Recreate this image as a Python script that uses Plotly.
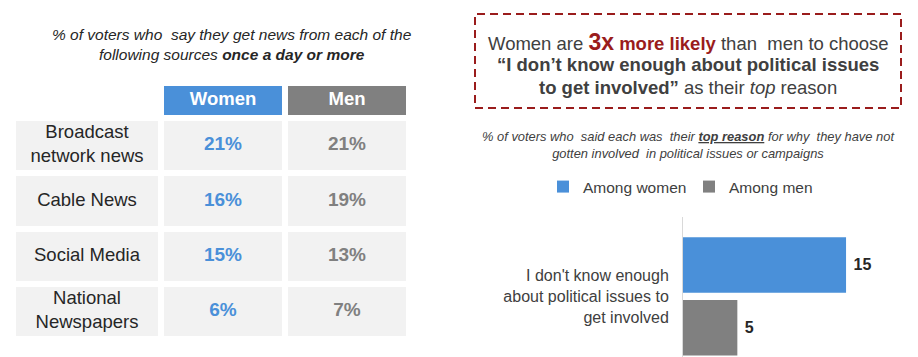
import plotly.graph_objects as go

# ---------------- data ----------------
# Left table
sources = ["Broadcast<br>network news", "Cable News", "Social Media", "National<br>Newspapers"]
groups = ["Women", "Men"]
women_pct = [21, 16, 15, 6]
men_pct = [21, 19, 13, 7]

# Right bar chart
reasons = ["I don't know enough<br>about political issues to<br>get involved"]
among_women = [15]
among_men = [5]
series_names = ["Among women", "Among men"]

# ---------------- styling ----------------
W, H = 918, 357
OFF = 8  # page body margin offset
FONT = "Liberation Sans, Arial, sans-serif"
BLUE = "#4A90D9"
GRAY = "#808080"
CELL = "#F2F2F2"
DARKRED = "#9A1C1C"
TXT = "#262626"
TXT2 = "#404040"


def xp(px):
    return (px - OFF) / W


def yp(py):
    return 1 - (py - OFF) / H


fig = go.Figure()

# ---- table grid (heatmap bricks on a pixel-scaled helper axis) ----
col_edges = [13, 161, 285, 409]
row_edges = [83, 117.5, 173, 229, 284, 339]
z = [[None, 1, 2]] + [[0, 0, 0] for _ in sources]
fig.add_trace(go.Heatmap(
    x=col_edges, y=row_edges, z=z, xaxis="x2", yaxis="y2",
    colorscale=[[0, CELL], [0.5, BLUE], [1, GRAY]], zmin=0, zmax=2,
    showscale=False, xgap=6, ygap=6, hoverinfo="skip"))

col_c = [(col_edges[i] + col_edges[i + 1]) / 2 for i in range(3)]
row_c = [(row_edges[i] + row_edges[i + 1]) / 2 for i in range(len(row_edges) - 1)]

# header text
fig.add_trace(go.Scatter(
    x=col_c[1:], y=[row_c[0]] * 2, xaxis="x2", yaxis="y2", mode="text",
    text=[f"<b>{g}</b>" for g in groups], textposition="middle center",
    textfont=dict(family=FONT, size=18.5, color="white"),
    showlegend=False, hoverinfo="skip"))
# row labels
fig.add_trace(go.Scatter(
    x=[col_c[0]] * len(sources), y=row_c[1:], xaxis="x2", yaxis="y2", mode="text",
    text=sources, textposition="middle center",
    textfont=dict(family=FONT, size=18.5, color=TXT),
    showlegend=False, hoverinfo="skip"))
# women values
fig.add_trace(go.Scatter(
    x=[col_c[1]] * len(women_pct), y=row_c[1:], xaxis="x2", yaxis="y2", mode="text",
    text=[f"<b>{v}%</b>" for v in women_pct], textposition="middle center",
    textfont=dict(family=FONT, size=19, color=BLUE),
    showlegend=False, hoverinfo="skip"))
# men values
fig.add_trace(go.Scatter(
    x=[col_c[2]] * len(men_pct), y=row_c[1:], xaxis="x2", yaxis="y2", mode="text",
    text=[f"<b>{v}%</b>" for v in men_pct], textposition="middle center",
    textfont=dict(family=FONT, size=19, color=GRAY),
    showlegend=False, hoverinfo="skip"))

# ---- bar chart ----
for name, vals, col in [(series_names[0], among_women, BLUE), (series_names[1], among_men, GRAY)]:
    fig.add_trace(go.Bar(
        y=reasons, x=vals, orientation="h", name=name, marker_color=col,
        marker_line_width=0,
        text=vals, texttemplate="\u00a0<b>%{x}</b>", textposition="outside",
        textfont=dict(family=FONT, size=16, color=TXT), cliponaxis=False,
        hoverinfo="skip"))

annotations = [
    dict(x=xp(232), y=yp(44.5), xref="paper", yref="paper", xanchor="center", yanchor="middle",
         showarrow=False, align="center",
         text="<i>% of voters who  say they get news from each of the<br>"
              "following sources <b>once a day or more</b></i>",
         font=dict(family=FONT, size=15.5, color=TXT)),
    dict(x=xp(688), y=yp(42), xref="paper", yref="paper", xanchor="center", yanchor="middle",
         showarrow=False,
         text="Women are <span style='color:%s'><b><span style='font-size:23px'>3x</span> more likely</b></span>"
              " than  men to choose" % DARKRED,
         font=dict(family=FONT, size=18.5, color=TXT2)),
    dict(x=xp(688), y=yp(65), xref="paper", yref="paper", xanchor="center", yanchor="middle",
         showarrow=False,
         text="<b>\u201cI don\u2019t know enough about political issues</b>",
         font=dict(family=FONT, size=18.5, color=TXT2)),
    dict(x=xp(688), y=yp(87), xref="paper", yref="paper", xanchor="center", yanchor="middle",
         showarrow=False,
         text="<b>to get involved\u201d</b> as their <i>top</i> reason",
         font=dict(family=FONT, size=18.5, color=TXT2)),
    dict(x=xp(688), y=yp(144.5), xref="paper", yref="paper", xanchor="center", yanchor="middle",
         showarrow=False, align="center",
         text="<i>% of voters who  said each was  their <b><u>top reason</u></b> for why  they have not<br>"
              "gotten involved  in political issues or campaigns</i>",
         font=dict(family=FONT, size=12.9, color=TXT2)),
]

shapes = [
    dict(type="rect", xref="paper", yref="paper", x0=xp(475), x1=xp(901), y0=yp(108), y1=yp(14),
         line=dict(color=DARKRED, width=2, dash="8px,5px"), fillcolor="rgba(0,0,0,0)"),
]

fig.update_layout(
    width=W, height=H, margin=dict(l=0, r=0, t=0, b=0),
    paper_bgcolor="white", plot_bgcolor="rgba(0,0,0,0)",
    font=dict(family=FONT, color=TXT2),
    barmode="group", bargap=0.15, bargroupgap=0.1176,
    xaxis=dict(domain=[xp(683), 1], range=[0, (W + OFF - 683) / 10.87], visible=False, fixedrange=True),
    yaxis=dict(domain=[0, yp(217)], range=[0.464, -0.536], showline=True, linecolor="#D9D9D9",
               linewidth=1, ticks="", showgrid=False, zeroline=False, ticklabelstandoff=10,
               tickfont=dict(family=FONT, size=16, color=TXT2), fixedrange=True),
    xaxis2=dict(domain=[0, 1], range=[OFF, W + OFF], visible=False, anchor="y2", fixedrange=True),
    yaxis2=dict(domain=[0, 1], range=[H + OFF, OFF], visible=False, anchor="x2", fixedrange=True),
    showlegend=True,
    legend=dict(orientation="h", x=xp(543), xanchor="left", y=yp(187), yanchor="middle",
                font=dict(family=FONT, size=15.5, color=TXT2), bgcolor="rgba(0,0,0,0)",
                traceorder="normal", entrywidth=101, entrywidthmode="pixels"),
    annotations=annotations, shapes=shapes,
)

fig.write_html("out.html")
